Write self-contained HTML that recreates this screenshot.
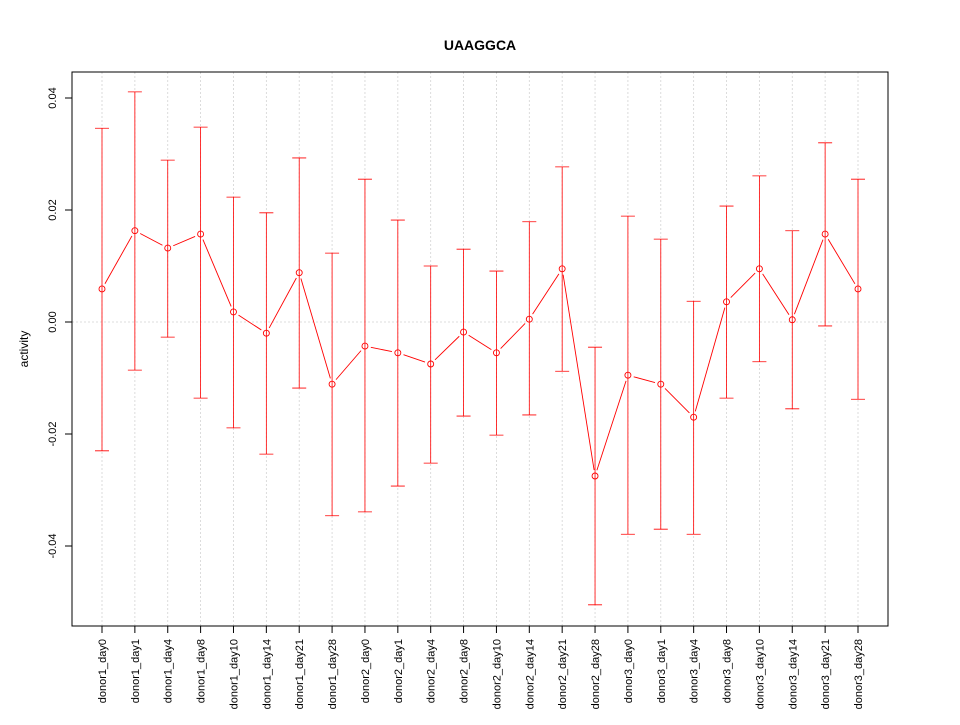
<!DOCTYPE html>
<html><head><meta charset="utf-8"><style>
body{margin:0;background:#fff;font-family:"Liberation Sans",sans-serif}
</style></head><body>
<svg id="chart" width="960" height="720" xmlns="http://www.w3.org/2000/svg" font-family="Liberation Sans, sans-serif">
<rect width="960" height="720" fill="#fff"/>
<text x="480" y="50" text-anchor="middle" font-size="14" font-weight="bold">UAAGGCA</text>
<text x="0" y="0" transform="translate(28,349) rotate(-90)" text-anchor="middle" font-size="12">activity</text>
<g id="grid"></g><g id="marks"></g><g id="axes"></g>
<rect x="72" y="72" width="816" height="554" fill="none" stroke="#000"/>
</svg>
<script>
const categories=["donor1_day0","donor1_day1","donor1_day4","donor1_day8","donor1_day10","donor1_day14","donor1_day21","donor1_day28","donor2_day0","donor2_day1","donor2_day4","donor2_day8","donor2_day10","donor2_day14","donor2_day21","donor2_day28","donor3_day0","donor3_day1","donor3_day4","donor3_day8","donor3_day10","donor3_day14","donor3_day21","donor3_day28"];
const values=[0.0059,0.0163,0.0132,0.0157,0.0018,-0.0020,0.0088,-0.0111,-0.0043,-0.0055,-0.0075,-0.0018,-0.0055,0.0005,0.0095,-0.0275,-0.0095,-0.0111,-0.0170,0.0036,0.0095,0.0004,0.0157,0.0059];
const upper=[0.0346,0.0411,0.0289,0.0348,0.0223,0.0195,0.0293,0.0123,0.0255,0.0182,0.0100,0.0130,0.0091,0.0179,0.0277,-0.0045,0.0189,0.0148,0.0037,0.0207,0.0261,0.0163,0.0320,0.0255];
const lower=[-0.0230,-0.0086,-0.0027,-0.0136,-0.0189,-0.0236,-0.0118,-0.0346,-0.0339,-0.0293,-0.0252,-0.0168,-0.0202,-0.0166,-0.0088,-0.0505,-0.0379,-0.0370,-0.0379,-0.0136,-0.0071,-0.0155,-0.0007,-0.0138];
const yTicks=[-0.04,-0.02,0.00,0.02,0.04];
const yTickLabels=["-0.04","-0.02","0.00","0.02","0.04"];
const NS="http://www.w3.org/2000/svg";
const x=i=>102+i*(858-102)/(categories.length-1);
const y=v=>322-v*5600;
function mk(tag,attrs,parent){const e=document.createElementNS(NS,tag);for(const k in attrs)e.setAttribute(k,attrs[k]);document.getElementById(parent).appendChild(e);return e;}
categories.forEach((c,i)=>{
 const g=mk("line",{x1:x(i),x2:x(i),y1:72,y2:626,stroke:"#d3d3d3","stroke-dasharray":"2,2","stroke-width":0.8},"grid");
 
 
 const t=mk("line",{x1:x(i),x2:x(i),y1:626,y2:633,stroke:"#000"},"axes");
 
 
 const l=mk("text",{x:0,y:0,transform:`translate(${x(i)+4},639) rotate(-90)`,"text-anchor":"end","font-size":"11"},"axes");
 l.textContent=c;
 
 
});
const z=mk("line",{x1:72,x2:888,y1:y(0),y2:y(0),stroke:"#d3d3d3","stroke-dasharray":"2,2","stroke-width":0.8},"grid");


yTicks.forEach((v,i)=>{
 const t=mk("line",{x1:65,x2:72,y1:y(v),y2:y(v),stroke:"#000"},"axes");
 
 
 const l=mk("text",{x:0,y:0,transform:`translate(56,${y(v)}) rotate(-90)`,"text-anchor":"middle","font-size":"11"},"axes");
 l.textContent=yTickLabels[i];
 
 
});
categories.forEach((c,i)=>{
 const e=mk("path",{d:`M${x(i)},${y(lower[i])}V${y(upper[i])}M${x(i)-7},${y(upper[i])}H${x(i)+7}M${x(i)-7},${y(lower[i])}H${x(i)+7}`,stroke:"#ff0000",fill:"none","stroke-width":0.8},"marks");
 
 
});
for(let i=0;i<values.length-1;i++){
 const x1=x(i),y1=y(values[i]),x2=x(i+1),y2=y(values[i+1]);
 const dx=x2-x1,dy=y2-y1,L=Math.hypot(dx,dy),g=6;
 if(L<=2*g)continue;
 const s=mk("line",{x1:x1+dx*g/L,y1:y1+dy*g/L,x2:x2-dx*g/L,y2:y2-dy*g/L,stroke:"#ff0000","stroke-width":0.9},"marks");
 
 
}
values.forEach((v,i)=>{
 const p=mk("circle",{cx:x(i),cy:y(v),r:3,fill:"none",stroke:"#ff0000","stroke-width":0.9},"marks");
 
 
});
</script>
</body></html>
